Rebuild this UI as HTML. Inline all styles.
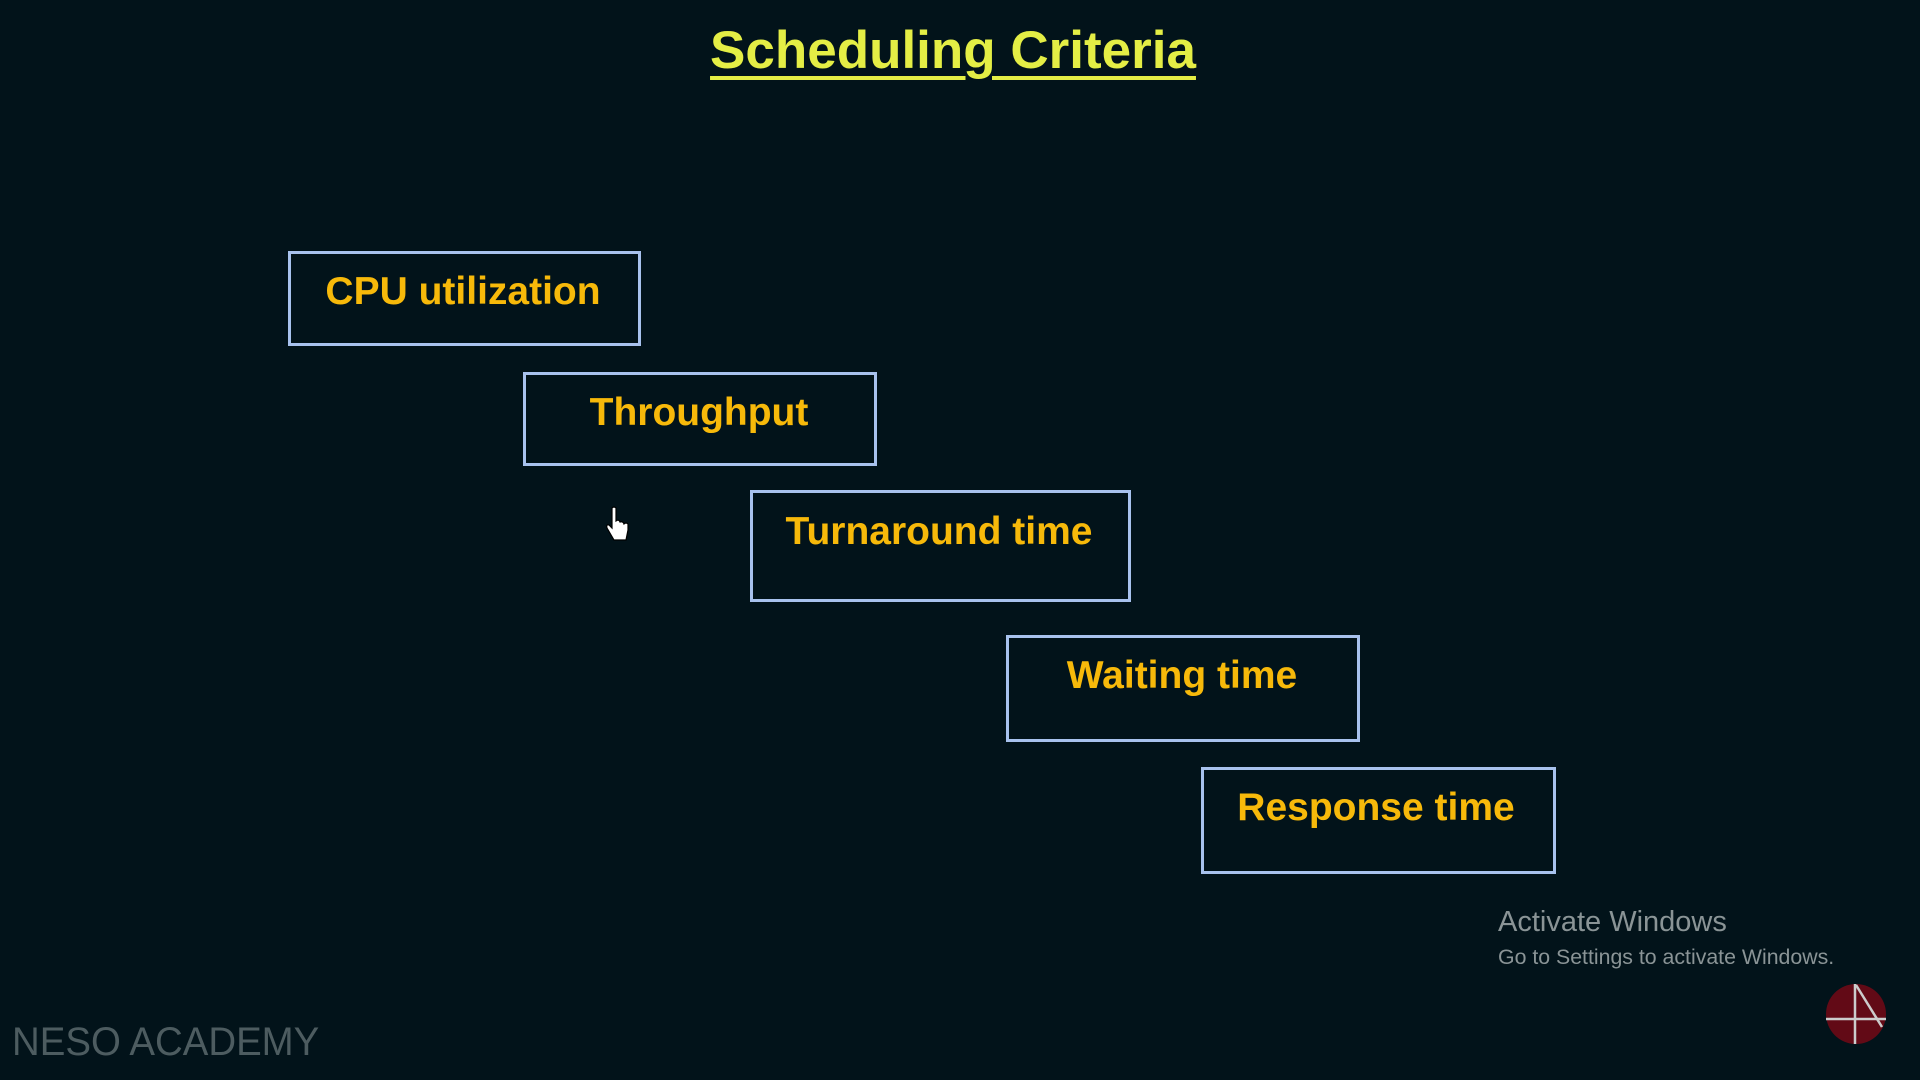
<!DOCTYPE html>
<html><head><style>
html,body{margin:0;padding:0}
body{width:1920px;height:1080px;background:#02131a;position:relative;overflow:hidden;font-family:"Liberation Sans",sans-serif}
.t{position:absolute;left:-7px;width:1920px;top:20px;text-align:center;font-size:53px;font-weight:bold;color:#e4ee45;}
.t span{text-decoration:underline;text-decoration-thickness:4px;text-underline-offset:8px}
.b{position:absolute;border:3px solid #a8c2ee;box-sizing:border-box}
.l{position:absolute;transform:translate(-50%,-50%);white-space:nowrap;font-size:39px;font-weight:bold;color:#f7b90a}
</style></head><body>
<div class="t"><span>Scheduling Criteria</span></div>
<div class="b" style="left:288px;top:251px;width:353px;height:95px"></div>
<div class="b" style="left:523px;top:372px;width:354px;height:94px"></div>
<div class="b" style="left:750px;top:490px;width:381px;height:112px"></div>
<div class="b" style="left:1006px;top:635px;width:354px;height:107px"></div>
<div class="b" style="left:1201px;top:767px;width:355px;height:107px"></div>
<div class="l" style="left:463px;top:292px">CPU utilization</div>
<div class="l" style="left:699px;top:413px">Throughput</div>
<div class="l" style="left:939px;top:532px">Turnaround time</div>
<div class="l" style="left:1182px;top:676px">Waiting time</div>
<div class="l" style="left:1376px;top:808px">Response time</div>
<svg style="position:absolute;left:604px;top:506px" width="26" height="40" viewBox="0 0 26 40">
<path d="M8 2 L8 22 L5 19 Q2 18 3 22 L10 34 L22 34 L24 24 L24 18 Q22 16 20 18 Q19 15 16 16 Q15 13 12 15 L12 2 Q10 0 8 2 Z" fill="#fff" stroke="#000" stroke-width="1.2"/>
</svg>
<div style="position:absolute;left:1498px;top:906px;font-size:29px;color:#8a9496">Activate Windows</div>
<div style="position:absolute;left:1498px;top:945px;font-size:21.3px;color:#8a9496">Go to Settings to activate Windows.</div>
<div style="position:absolute;left:12px;top:1020px;font-size:40px;color:#4d5c60;transform:scaleX(0.96);transform-origin:left">NESO ACADEMY</div>
<svg style="position:absolute;left:1825px;top:983px" width="62" height="62" viewBox="0 0 62 62">
<circle cx="31" cy="31" r="30" fill="#620a16"/>
<line x1="1" y1="36" x2="61" y2="36" stroke="#ccc" stroke-width="2.5"/>
<line x1="30" y1="1" x2="30" y2="61" stroke="#ccc" stroke-width="2.5"/>
<line x1="31" y1="2" x2="57" y2="44" stroke="#ccc" stroke-width="2.5"/>
</svg>
</body></html>
